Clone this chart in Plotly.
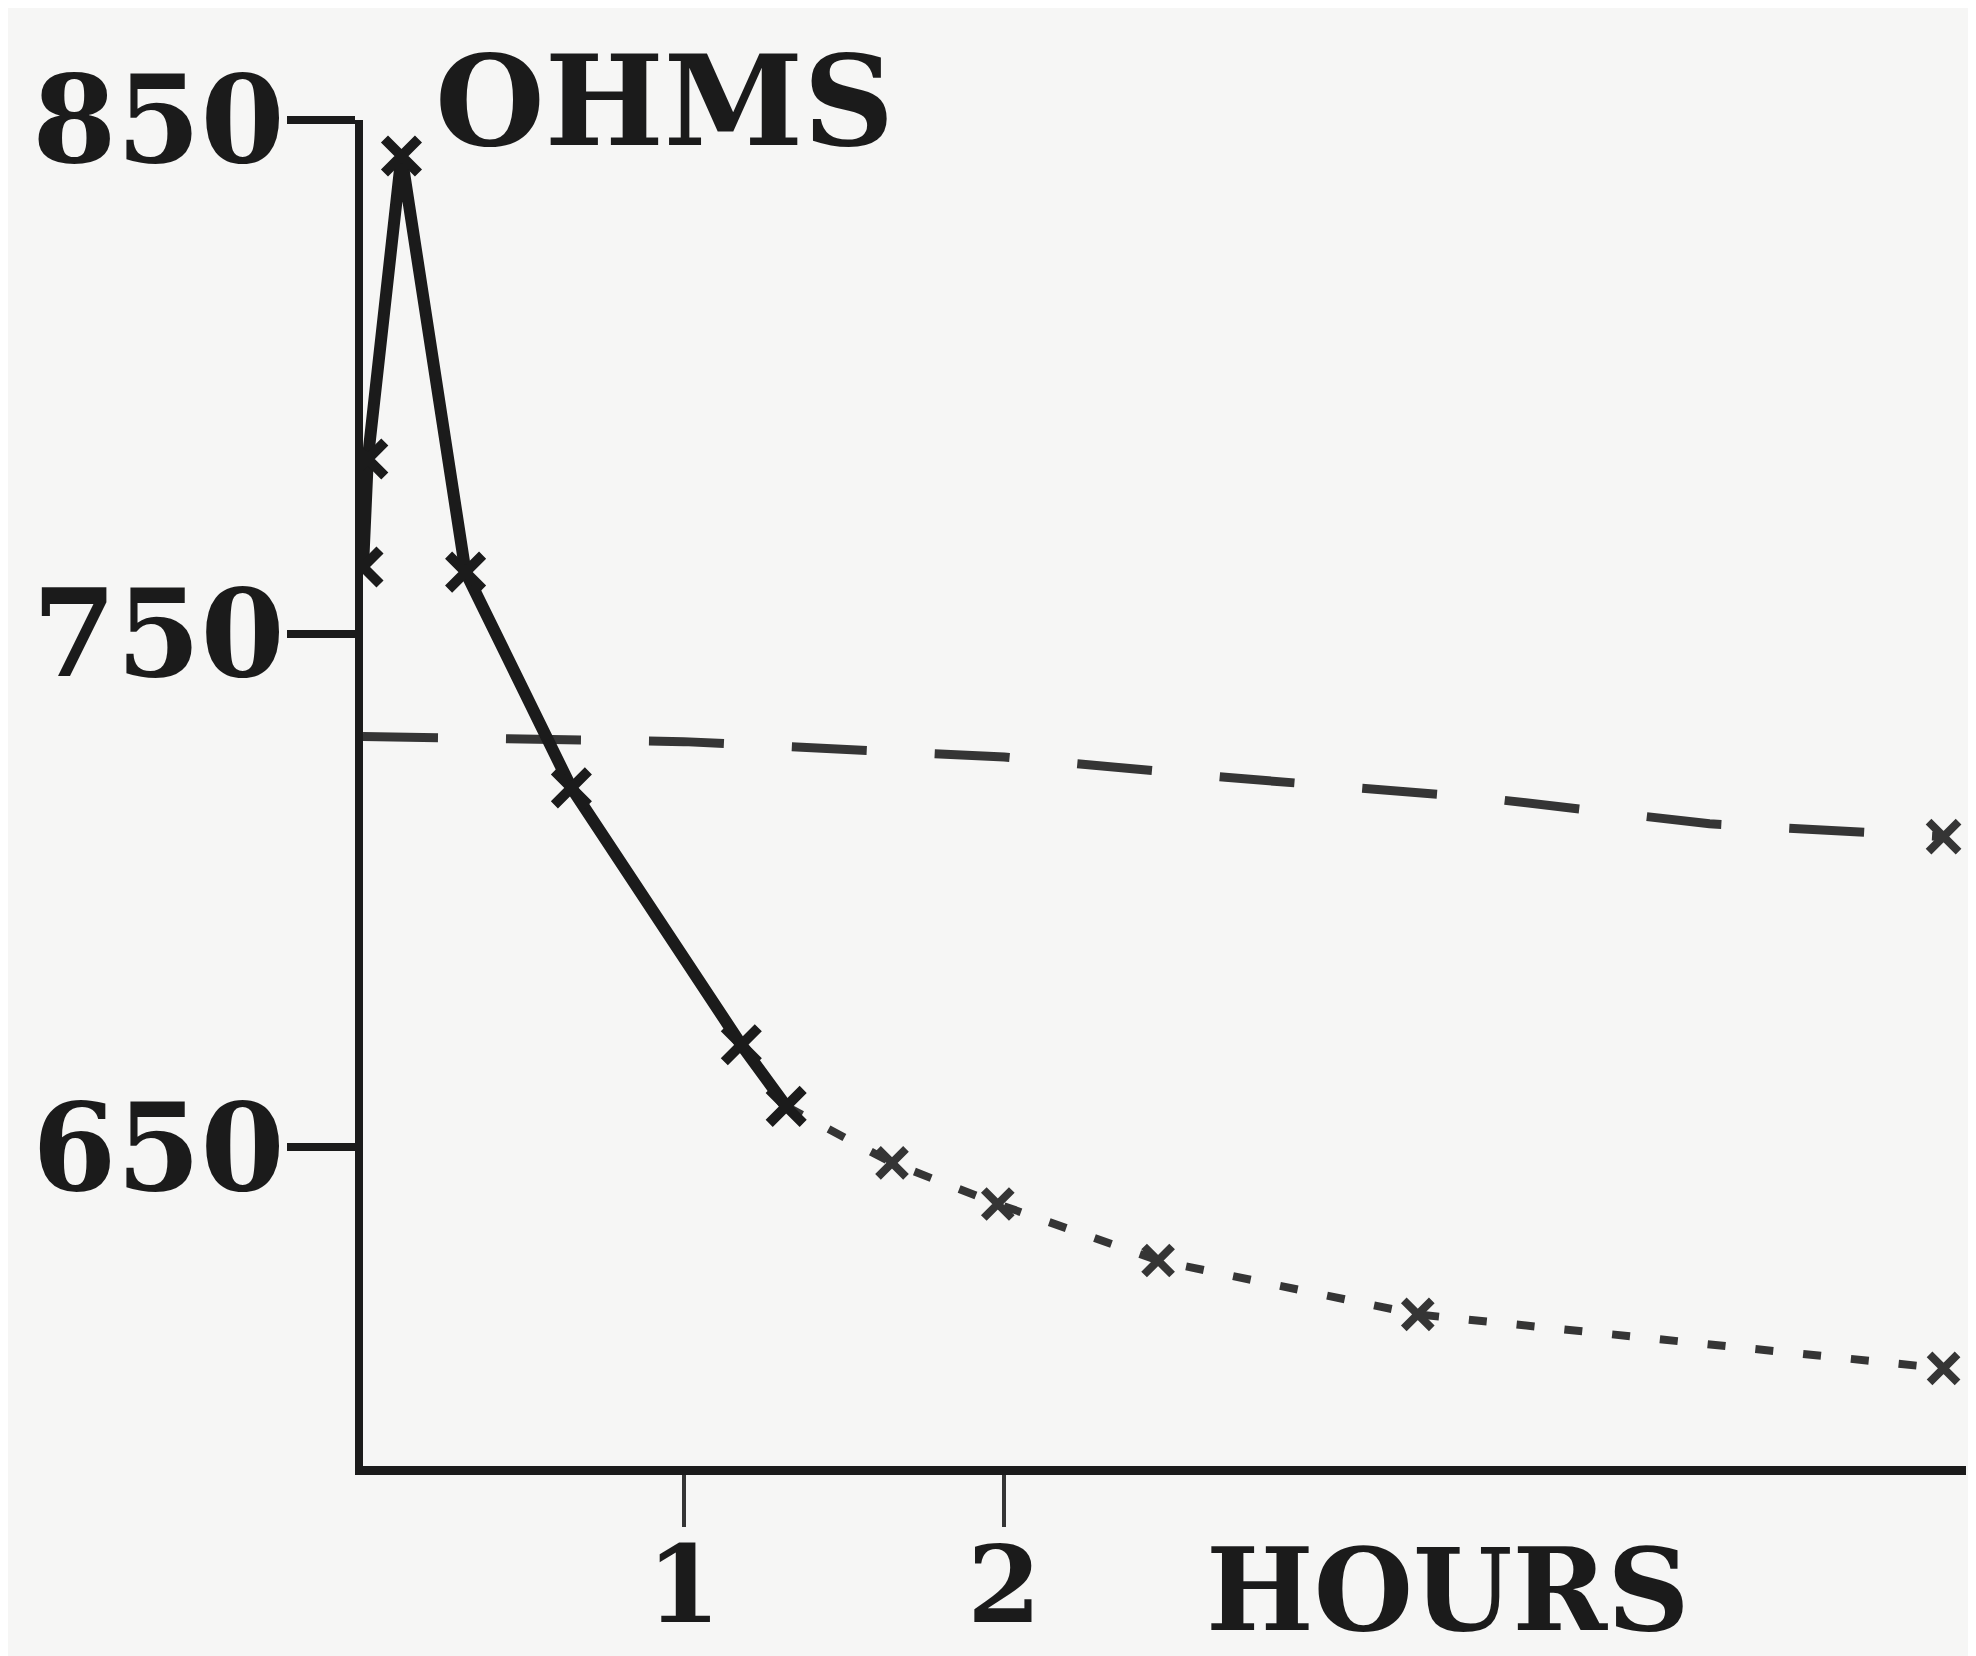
import plotly.graph_objects as go

# --- data ---
# falling curve, solid part (measured points)
hours_solid = [0.0, 0.015, 0.12, 0.32, 0.65, 1.18, 1.32]
ohms_solid = [763, 784, 843, 762, 720, 670, 658]

# falling curve, dotted continuation
hours_dotted = [1.32, 1.65, 1.98, 2.48, 3.29, 4.93]
ohms_dotted = [658, 647, 639, 628, 617.5, 607]

# upper dashed curve, single marker at the end
hours_upper = [0.0, 1.0, 2.0, 2.7, 3.5, 4.2, 4.93]
ohms_upper = [730, 729, 726, 722, 718, 713, 710.5]

y_ticks = [650, 750, 850]
y_tick_text = ["650", "750", "850"]
x_ticks = [1, 2]
x_tick_text = ["1", "2"]

INK = "#1b1b1b"
GREY = "#353535"
BG = "#f6f6f5"
FONT = dict(family="DejaVu Serif", size=121, color=INK, weight="bold")
FONT_BOTTOM = dict(family="DejaVu Serif", size=114, color=INK, weight="bold")
FONT_XTICK = dict(family="DejaVu Serif", size=106, color=INK, weight="bold")

fig = go.Figure()

# upper dashed line
fig.add_trace(go.Scatter(
    x=hours_upper, y=ohms_upper, mode="lines",
    line=dict(color=GREY, width=9, dash="75px,68px"),
    hoverinfo="skip"
))
fig.add_trace(go.Scatter(
    x=hours_upper[-1:], y=ohms_upper[-1:], mode="markers",
    marker=dict(symbol="x-thin", size=30, line=dict(color=GREY, width=8)),
    hoverinfo="skip"
))

# lower dotted continuation
fig.add_trace(go.Scatter(
    x=hours_dotted, y=ohms_dotted, mode="lines+markers",
    line=dict(color=GREY, width=8, dash="18px,30px"),
    marker=dict(symbol="x-thin", size=28, line=dict(color=GREY, width=8)),
    hoverinfo="skip"
))

# solid measured curve
fig.add_trace(go.Scatter(
    x=hours_solid, y=ohms_solid, mode="lines+markers",
    line=dict(color=INK, width=12),
    marker=dict(symbol="x-thin", size=34, line=dict(color=INK, width=10)),
    hoverinfo="skip"
))

fig.add_annotation(
    text="OHMS", xref="paper", yref="paper", x=0.188, y=1,
    xanchor="center", yanchor="middle", yshift=19,
    showarrow=False, font=dict(FONT, size=126)
)
fig.add_annotation(
    text="HOURS", xref="paper", yref="paper", x=0.677, y=0,
    xanchor="center", yanchor="middle", yshift=-124,
    showarrow=False, font=FONT_BOTTOM
)

# margins allow for the page's 8px body margin
fig.update_layout(
    width=1976, height=1656,
    margin=dict(l=355, r=18, t=112, b=198),
    paper_bgcolor=BG, plot_bgcolor=BG,
    showlegend=False,
    xaxis=dict(
        range=[0, 5], showgrid=False, zeroline=False, automargin=False,
        showline=True, linecolor=INK, linewidth=9,
        tickmode="array", tickvals=x_ticks, ticktext=x_tick_text,
        ticks="outside", ticklen=52, tickwidth=4, tickcolor=GREY,
        tickfont=FONT_XTICK, ticklabelstandoff=-32,
    ),
    yaxis=dict(
        range=[588, 850], showgrid=False, zeroline=False, automargin=False,
        showline=True, linecolor=INK, linewidth=8,
        tickmode="array", tickvals=y_ticks, ticktext=y_tick_text,
        ticks="outside", ticklen=68, tickwidth=8, tickcolor=INK,
        tickfont=FONT, ticklabelstandoff=-22,
    ),
)

fig.write_html("out.html")
